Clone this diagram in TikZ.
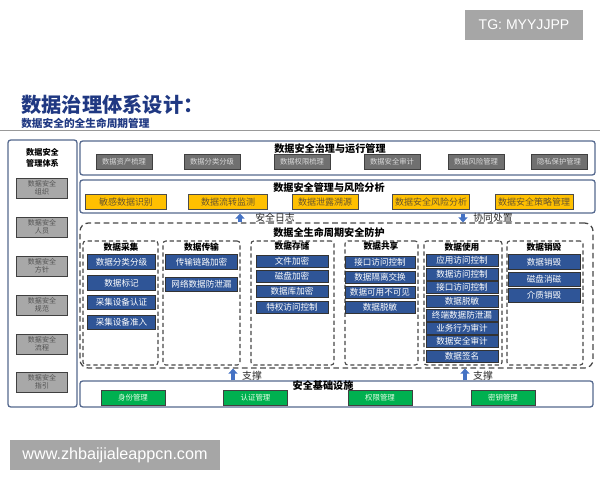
\documentclass[tikz,border=0pt]{standalone}
\usepackage{fontspec}
\setmainfont{Noto Sans CJK SC}
\newfontfamily\latinfont{Liberation Sans}
\usetikzlibrary{arrows.meta}

\definecolor{titleblue}{RGB}{31,56,130}
\definecolor{panelcol}{RGB}{84,104,142}
\definecolor{dashcol}{RGB}{70,70,70}
\definecolor{darkgray}{RGB}{112,112,112}
\definecolor{lightgray}{RGB}{168,168,168}
\definecolor{goldfill}{RGB}{255,192,0}
\definecolor{goldtext}{RGB}{105,85,45}
\definecolor{bluefill}{RGB}{47,85,151}
\definecolor{greenfill}{RGB}{0,176,80}
\definecolor{arrowblue}{RGB}{68,114,196}
\definecolor{markgray}{RGB}{166,166,166}

\tikzset{
  panel/.style={draw=panelcol, line width=0.9pt, rounded corners=2pt, inner sep=0pt},
  lifepanel/.style={draw=dashcol, line width=0.9pt, dash pattern=on 4pt off 2.5pt, rounded corners=6pt, inner sep=0pt},
  colpanel/.style={draw=dashcol, line width=0.8pt, dash pattern=on 3pt off 2pt, rounded corners=2pt, inner sep=0pt},
  paneltitle/.style={font=\fontsize{7.2}{8}\selectfont\bfseries, inner sep=0pt},
  coltitle/.style={font=\fontsize{6.2}{7}\selectfont\bfseries, inner sep=0pt},
  sidebox/.style={draw=black!75, fill=lightgray, line width=0.6pt, minimum width=1.28cm, minimum height=0.5cm, align=center, text=black!68, font=\fontsize{5}{5.6}\selectfont, inner sep=0pt},
  govbox/.style={draw=black!75, fill=darkgray, line width=0.6pt, minimum width=1.4cm, minimum height=0.36cm, text=black!15, font=\fontsize{5.2}{6}\selectfont, inner sep=0pt},
  riskbox/.style={draw=black!70, fill=goldfill, line width=0.6pt, minimum height=0.36cm, text=goldtext, font=\fontsize{6.4}{7}\selectfont, inner sep=0pt},
  lifebox/.style={draw=black!80, fill=bluefill, line width=0.6pt, minimum width=1.8cm, text=white, font=\fontsize{6.1}{7}\selectfont, inner sep=0pt},
  basebox/.style={draw=black!75, fill=greenfill, line width=0.6pt, minimum width=1.6cm, minimum height=0.36cm, text=white!90!green, font=\fontsize{5.3}{6}\selectfont, inner sep=0pt},
  flowarrow/.style={-{Triangle[length=3.5pt,width=6.5pt]}, line width=2.4pt, draw=arrowblue},
  flowlabel/.style={font=\fontsize{7}{8}\selectfont, inner sep=0pt, text=black!85},
  stamp/.style={fill=markgray, text=white, inner sep=0pt}
}

\begin{document}
\begin{tikzpicture}[x=0.025cm, y=-0.025cm]
	\useasboundingbox (0,0) rectangle (600,480);

	%watermarks
	\node[stamp, minimum width=2.95cm, minimum height=0.75cm, font=\latinfont\fontsize{10}{12}\selectfont] (tg) at (524,25) {TG: MYYJJPP};
	\node[stamp, minimum width=5.25cm, minimum height=0.75cm, font=\latinfont\fontsize{11.5}{13}\selectfont] (web) at (115,455) {www.zhbaijialeappcn.com};

	%heading
	\node[anchor=west, inner sep=0pt, text=titleblue, font=\fontsize{14.4}{16}\selectfont\bfseries] (title) at (21,105) {数据治理体系设计：};
	\node[anchor=west, inner sep=0pt, text=titleblue, font=\fontsize{7.6}{8}\selectfont\bfseries] (subtitle) at (21,123) {数据安全的全生命周期管理};
	\draw[black!40, line width=0.7pt] (0,130) -- (600,130);

	%left column
	\node[panel, minimum width=1.725cm, minimum height=6.675cm] (side) at (42.5,273.5) {};
	\node[paneltitle, align=center, font=\fontsize{5.8}{7.6}\selectfont\bfseries] (sidetitle) at (42.5,158) {数据安全\\管理体系};
	\node[sidebox] (org)   at (42,188) {数据安全\\组织};
	\node[sidebox] (staff) at (42,227) {数据安全\\人员};
	\node[sidebox] (policy) at (42,266) {数据安全\\方针};
	\node[sidebox] (norm)  at (42,305) {数据安全\\规范};
	\node[sidebox] (proc)  at (42,344) {数据安全\\流程};
	\node[sidebox] (guide) at (42,382) {数据安全\\指引};

	%governance and operation
	\node[panel, minimum width=12.875cm, minimum height=0.85cm] (gov) at (337.5,158) {};
	\node[paneltitle] (govtitle) at (330,148.5) {数据安全治理与运行管理};
	\node[govbox] (asset)   at (124,162) {数据资产梳理};
	\node[govbox] (classify) at (212,162) {数据分类分级};
	\node[govbox] (perm)    at (302,162) {数据权限梳理};
	\node[govbox] (audit)   at (392,162) {数据安全审计};
	\node[govbox] (riskmgt) at (476,162) {数据风险管理};
	\node[govbox] (privacy) at (559,162) {隐私保护管理};

	%management and risk analysis
	\node[panel, minimum width=12.875cm, minimum height=0.825cm] (risk) at (337.5,196.5) {};
	\node[paneltitle] (risktitle) at (329,188) {数据安全管理与风险分析};
	\node[riskbox, minimum width=2.02cm] (sensitive) at (126,202) {敏感数据识别};
	\node[riskbox, minimum width=1.98cm] (flow)      at (228,202) {数据流转监测};
	\node[riskbox, minimum width=1.65cm] (leak)      at (325,202) {数据泄露溯源};
	\node[riskbox, minimum width=1.93cm] (riskana)   at (431,202) {数据安全风险分析};
	\node[riskbox, minimum width=1.95cm] (strategy)  at (534,202) {数据安全策略管理};

	%lifecycle protection
	\node[lifepanel, minimum width=12.825cm, minimum height=3.625cm] (life) at (336.5,295.5) {};
	\node[paneltitle] (lifetitle) at (329,233) {数据全生命周期安全防护};
	%
	\node[colpanel, minimum width=1.875cm, minimum height=3.1cm] (collect)  at (120.5,303) {};
	\node[colpanel, minimum width=1.925cm, minimum height=3.1cm] (transfer) at (201.5,303) {};
	\node[colpanel, minimum width=2.075cm, minimum height=3.1cm] (store)    at (292.5,303) {};
	\node[colpanel, minimum width=1.825cm, minimum height=3.1cm] (share)    at (381.5,303) {};
	\node[colpanel, minimum width=1.95cm,  minimum height=3.1cm] (use)      at (463,303) {};
	\node[colpanel, minimum width=1.9cm,   minimum height=3.1cm] (destroy)  at (545,303) {};
	%
	\node[coltitle] at (121,247.5) {数据采集};
	\node[coltitle] at (201.5,247) {数据传输};
	\node[coltitle] at (292,246.5) {数据存储};
	\node[coltitle] at (381,246.5) {数据共享};
	\node[coltitle] at (462,247.5) {数据使用};
	\node[coltitle] at (544,247.5) {数据销毁};
	%
	\node[lifebox, minimum width=1.68cm, minimum height=0.37cm] (c1) at (121.5,262) {数据分类分级};
	\node[lifebox, minimum width=1.68cm, minimum height=0.37cm] (c2) at (121.5,283) {数据标记};
	\node[lifebox, minimum width=1.68cm, minimum height=0.37cm] (c3) at (121.5,302.5) {采集设备认证};
	\node[lifebox, minimum width=1.68cm, minimum height=0.37cm] (c4) at (121.5,322.5) {采集设备准入};
	%
	\node[lifebox, minimum width=1.82cm, minimum height=0.37cm] (t1) at (201.5,262) {传输链路加密};
	\node[lifebox, minimum width=1.82cm, minimum height=0.37cm] (t2) at (201.5,284.5) {网络数据防泄漏};
	%
	\node[lifebox, minimum height=0.3cm] (s1) at (292,261) {文件加密};
	\node[lifebox, minimum height=0.3cm] (s2) at (292,276.5) {磁盘加密};
	\node[lifebox, minimum height=0.3cm] (s3) at (292,291.5) {数据库加密};
	\node[lifebox, minimum height=0.3cm] (s4) at (292,307.5) {特权访问控制};
	%
	\node[lifebox, minimum width=1.75cm, minimum height=0.3cm] (h1) at (380,262) {接口访问控制};
	\node[lifebox, minimum width=1.75cm, minimum height=0.3cm] (h2) at (380,277.5) {数据隔离交换};
	\node[lifebox, minimum width=1.75cm, minimum height=0.3cm] (h3) at (380,292.5) {数据可用不可见};
	\node[lifebox, minimum width=1.75cm, minimum height=0.3cm] (h4) at (380,307) {数据脱敏};
	%
	\node[lifebox, minimum height=0.3cm] (u1) at (462,260.5) {应用访问控制};
	\node[lifebox, minimum height=0.3cm] (u2) at (462,274.5) {数据访问控制};
	\node[lifebox, minimum height=0.3cm] (u3) at (462,287.5) {接口访问控制};
	\node[lifebox, minimum height=0.3cm] (u4) at (462,301.5) {数据脱敏};
	\node[lifebox, minimum height=0.3cm] (u5) at (462,315) {终端数据防泄漏};
	\node[lifebox, minimum height=0.3cm] (u6) at (462,328.5) {业务行为审计};
	\node[lifebox, minimum height=0.3cm] (u7) at (462,341.5) {数据安全审计};
	\node[lifebox, minimum height=0.3cm] (u8) at (462,356) {数据签名};
	%
	\node[lifebox, minimum height=0.37cm] (d1) at (544,262) {数据销毁};
	\node[lifebox, minimum height=0.37cm] (d2) at (544,279.5) {磁盘消磁};
	\node[lifebox, minimum height=0.37cm] (d3) at (544,295.5) {介质销毁};

	%security infrastructure
	\node[panel, minimum width=12.825cm, minimum height=0.65cm] (base) at (336.5,394) {};
	\node[paneltitle] (basetitle) at (323,385.5) {安全基础设施};
	\node[basebox] (identity) at (133,398) {身份管理};
	\node[basebox] (authn)    at (255.5,398) {认证管理};
	\node[basebox] (access)   at (380,398) {权限管理};
	\node[basebox] (keys)     at (503,398) {密钥管理};

	%arrows between layers
	\coordinate (logx) at (240,0);
	\coordinate (dispx) at (463,0);
	\coordinate (supx1) at (233,0);
	\coordinate (supx2) at (465,0);
	\draw[flowarrow] (life.north -| logx) -- (risk.south -| logx);
	\draw[flowarrow] (risk.south -| dispx) -- (life.north -| dispx);
	\draw[flowarrow] (base.north -| supx1) -- (life.south -| supx1);
	\draw[flowarrow] (base.north -| supx2) -- (life.south -| supx2);
	\node[flowlabel] (logtext)  at (275,218) {安全日志};
	\node[flowlabel] (disptext) at (493,218) {协同处置};
	\node[flowlabel] (suptext1) at (252,376) {支撑};
	\node[flowlabel] (suptext2) at (483,376) {支撑};
\end{tikzpicture}
\end{document}
